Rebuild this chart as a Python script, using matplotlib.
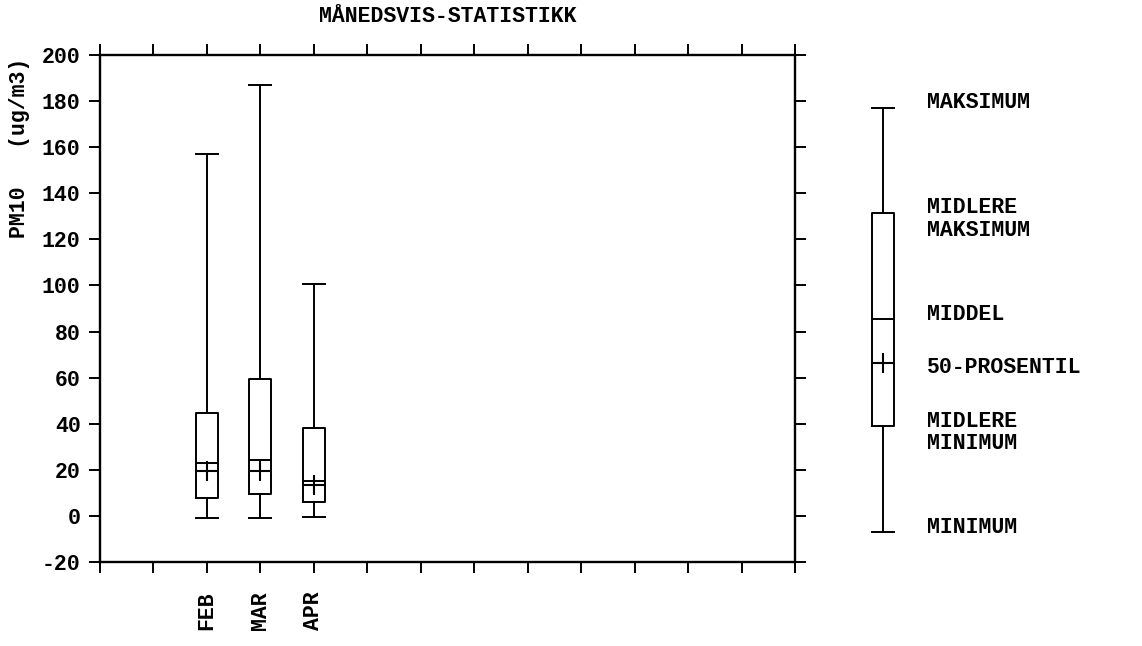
import matplotlib
matplotlib.use("Agg")
import matplotlib.pyplot as plt

plt.rcParams['font.family'] = ['Liberation Mono', 'DejaVu Sans']
plt.rcParams['font.weight'] = 'bold'
plt.rcParams['axes.titleweight'] = 'bold'
plt.rcParams['axes.labelweight'] = 'bold'

# ---- data ----
months = ['JAN', 'FEB', 'MAR', 'APR', 'MAI', 'JUN', 'JUL', 'AUG', 'SEP', 'OKT', 'NOV', 'DES']
data_months = ['FEB', 'MAR', 'APR']
maksimum = [157, 187, 100.5]
midlere_maksimum = [44.5, 59.3, 38.0]
middel = [22.8, 24.3, 15.2]
prosentil50 = [19.7, 19.7, 13.4]
midlere_minimum = [7.7, 9.5, 6.2]
minimum = [-1.0, -1.0, -0.6]

# legend example box
leg_vals = dict(whishi=177.1, q3=131.3, med=85.3, mean=66.5, q1=38.8, whislo=-7.0)
leg_labels = ['MAKSIMUM', 'MIDLERE\nMAKSIMUM', 'MIDDEL', '50-PROSENTIL', 'MIDLERE\nMINIMUM', 'MINIMUM']
leg_label_y = [179.2, 128.9, 87.2, 64.6, 36.2, -5.2]

yticks = list(range(-20, 201, 20))

FS = 15.5
W, H = 1142, 646
fig = plt.figure(figsize=(W / 100, H / 100), dpi=100)

ax = fig.add_axes([100 / W, 1 - 562 / H, 695 / W, 507 / H])

positions = [months.index(m) + 1 for m in data_months]
stats = []
for i in range(len(data_months)):
    stats.append(dict(med=middel[i], q1=midlere_minimum[i], q3=midlere_maksimum[i],
                      whislo=minimum[i], whishi=maksimum[i], mean=prosentil50[i],
                      fliers=[]))

lw = 1.4
box_kw = dict(widths=0.41, capwidths=0.41, showmeans=True, showfliers=False,
              boxprops=dict(color='black', linewidth=lw),
              whiskerprops=dict(color='black', linewidth=lw),
              capprops=dict(color='black', linewidth=lw),
              medianprops=dict(color='black', linewidth=lw),
              meanprops=dict(marker='+', markersize=15, markeredgecolor='black',
                             markeredgewidth=1.5, linestyle='none'),
              manage_ticks=False)
ax.bxp(stats, positions=positions, **box_kw)

ax.set_xlim(0, 13)
ax.set_ylim(-20, 200)
ax.set_xticks(range(0, 14))
ax.set_xticklabels([''] + [m if m in data_months else '' for m in months] + [''],
                   rotation=90, fontsize=FS, fontweight='bold')
ax.set_yticks(yticks)
ax.set_yticklabels([str(v) for v in yticks], fontsize=FS, fontweight='bold')
ax.tick_params(axis='both', direction='out', length=8, width=1.4, color='black',
               top=True, right=True)
ax.tick_params(axis='x', pad=13)
ax.tick_params(axis='y', pad=6)
for s in ax.spines.values():
    s.set_linewidth(1.7)

ax.set_ylabel('PM10   (ug/m3)', fontsize=FS, fontweight='bold')
ax.yaxis.set_label_coords(-0.1, 0.817)
fig.text(447.5 / W, 1 - 17 / H, 'MÅNEDSVIS-STATISTIKK', fontsize=FS,
         fontweight='bold', ha='center', va='center')

# ---- legend ----
ax2 = fig.add_axes([829.5 / W, 1 - 562 / H, 107 / W, 507 / H])
ax2.set_xlim(0, 2)
ax2.set_ylim(-20, 200)
ax2.axis('off')
leg_stats = [dict(leg_vals, fliers=[])]
ax2.bxp(leg_stats, positions=[1], **box_kw)
for lab, yy in zip(leg_labels, leg_label_y):
    ax2.text(1.82, yy, lab, fontsize=FS, fontweight='bold', ha='left', va='center',
             linespacing=1.12, clip_on=False)

fig.savefig('out.png', dpi=100)
